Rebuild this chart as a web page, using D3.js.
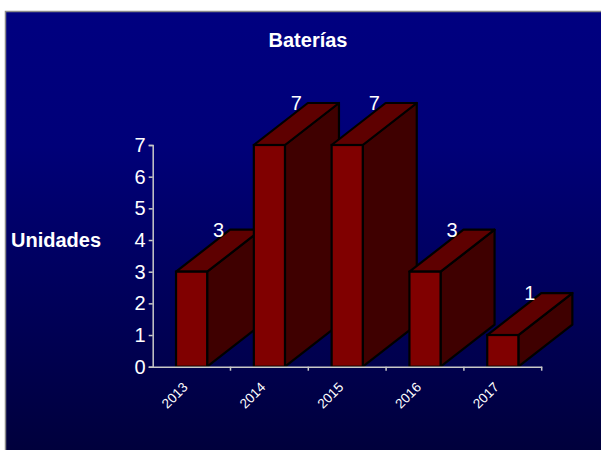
<!DOCTYPE html>
<head>
  <title>Baterías</title>
  <style>
    body { margin: 0; background: #fff; }
    text { font-family: Arial, "Liberation Sans", sans-serif; fill: #fff; }
  </style>
</head>
<body>
  <script src="https://cdn.jsdelivr.net/npm/d3@7/dist/d3.min.js"></script>
  <script>
    // data
    var years = ["2013", "2014", "2015", "2016", "2017"];
    var units = [3, 7, 7, 3, 1];
    var yTicks = [0, 1, 2, 3, 4, 5, 6, 7];

    var w = 601, h = 450;
    var depthX = 54, depthY = -42;   // 3d offset of the bars

    var svg = d3.select("body").append("svg")
      .attr("width", w)
      .attr("height", h);

    // background gradient
    var grad = svg.append("defs").append("linearGradient")
      .attr("id", "bg").attr("x1", 0).attr("y1", 0).attr("x2", 0).attr("y2", 1);
    grad.append("stop").attr("offset", "0%").attr("stop-color", "#000080");
    grad.append("stop").attr("offset", "30%").attr("stop-color", "#000078");
    grad.append("stop").attr("offset", "100%").attr("stop-color", "#00003a");

    svg.append("rect")
      .attr("x", 5.5).attr("y", 11.5)
      .attr("width", w).attr("height", h)
      .attr("fill", "url(#bg)")
      .attr("stroke", "#8a8a8a")
      .attr("stroke-width", 1.5);

    // scales
    var x = d3.scaleBand().domain(years).range([152.7, 541.7]).padding(0);
    var y = d3.scaleLinear().domain([0, 7]).range([366.7, 145]);
    var barW = x.step() * 0.4;

    var data = years.map(function(d, i) { return { year: d, value: units[i] }; });

    // bars, left to right so later bars cover earlier sides
    var bars = svg.selectAll("g.bar")
      .data(data)
      .enter()
      .append("g")
      .attr("class", "bar");

    function x0(d) { return x(d.year) + x.bandwidth() / 2 - barW / 2; }

    // side face
    bars.append("path")
      .attr("d", function(d) {
        var a = x0(d) + barW, t = y(d.value), b = y(0);
        return "M" + a + "," + b + "L" + a + "," + t +
          "L" + (a + depthX) + "," + (t + depthY) +
          "L" + (a + depthX) + "," + (b + depthY) + "Z";
      })
      .attr("fill", "#3f0000")
      .attr("stroke", "#000")
      .attr("stroke-width", 2.2)
      .attr("stroke-linejoin", "round");

    // top face
    bars.append("path")
      .attr("d", function(d) {
        var l = x0(d), t = y(d.value);
        return "M" + l + "," + t + "L" + (l + barW) + "," + t +
          "L" + (l + barW + depthX) + "," + (t + depthY) +
          "L" + (l + depthX) + "," + (t + depthY) + "Z";
      })
      .attr("fill", "#5e0000")
      .attr("stroke", "#000")
      .attr("stroke-width", 2.2)
      .attr("stroke-linejoin", "round");

    // front face
    bars.append("rect")
      .attr("x", x0)
      .attr("y", function(d) { return y(d.value); })
      .attr("width", barW)
      .attr("height", function(d) { return y(0) - y(d.value); })
      .attr("fill", "#800000")
      .attr("stroke", "#000")
      .attr("stroke-width", 2.2);

    // value labels
    bars.append("text")
      .attr("x", function(d) { return x0(d) + barW / 2 + depthX / 2; })
      .attr("y", function(d) { return y(d.value) + depthY / 2 - 14; })
      .attr("text-anchor", "middle")
      .style("font-size", "20px")
      .text(function(d) { return d.value; });

    // y axis
    var yAxis = d3.axisLeft(y).tickValues(yTicks).tickFormat(d3.format("d"))
      .tickSize(4).tickPadding(3);
    var gy = svg.append("g")
      .attr("transform", "translate(152.7,0)")
      .call(yAxis);
    gy.selectAll("line, path").attr("stroke", "#c8c8c8").attr("stroke-width", 1.5);
    gy.selectAll("text")
      .style("font-size", "20px")
      .attr("fill", "#fff");

    // x axis
    var xAxis = d3.axisBottom(x).tickSize(0).tickFormat("");
    var gx = svg.append("g")
      .attr("transform", "translate(0,366.7)")
      .call(xAxis);
    gx.select("path").attr("stroke", "#c8c8c8").attr("stroke-width", 1.5);

    // tick marks at the category boundaries
    gx.selectAll("line.bound")
      .data(years)
      .enter()
      .append("line")
      .attr("class", "bound")
      .attr("x1", function(d) { return x(d) + x.step(); })
      .attr("x2", function(d) { return x(d) + x.step(); })
      .attr("y1", 0).attr("y2", 4)
      .attr("stroke", "#c8c8c8").attr("stroke-width", 1.5);

    // rotated year labels
    svg.selectAll("text.year")
      .data(years)
      .enter()
      .append("text")
      .attr("class", "year")
      .attr("transform", function(d) {
        return "translate(" + (x(d) + x.bandwidth() / 2 - 3) + ",388) rotate(-45)";
      })
      .attr("text-anchor", "end")
      .style("font-size", "13.5px")
      .text(function(d) { return d; });

    // title
    svg.append("text")
      .attr("x", 308).attr("y", 47)
      .attr("text-anchor", "middle")
      .style("font-size", "20px")
      .style("font-weight", "bold")
      .text("Baterías");

    // y axis label
    svg.append("text")
      .attr("x", 11).attr("y", 247)
      .style("font-size", "20px")
      .style("font-weight", "bold")
      .text("Unidades");
  </script>
</body>
